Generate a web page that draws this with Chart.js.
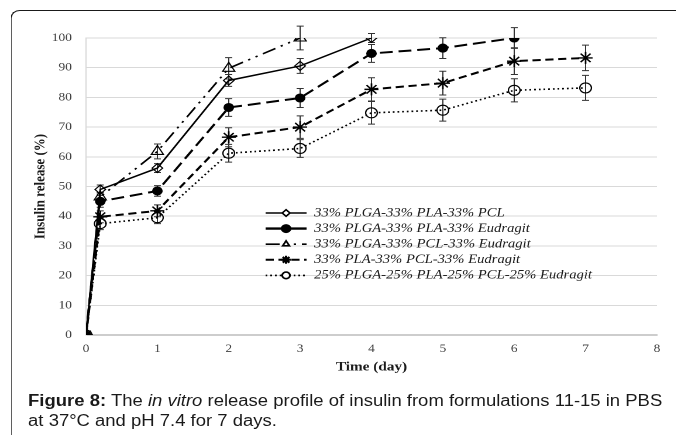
<!DOCTYPE html>
<html>
<head>
<meta charset="utf-8">
<script src="https://cdn.jsdelivr.net/npm/chart.js"></script>
<style>
  body { margin: 0; background: #fff; overflow: hidden; }
  #outer { position: relative; width: 676px; height: 435px; overflow: hidden; }
  /* the source figure is stretched horizontally, so draw narrow and stretch */
  #wrap { position: absolute; left: 0; top: 0; width: 578px; height: 435px;
    transform: scaleX(1.17); transform-origin: 0 0; }
  #frame { position: absolute; left: 8.5px; top: 10px; width: 620px; height: 460px;
    border-top: 1.5px solid #1a1a1a; border-left: 1.4px solid #1a1a1a; border-top-left-radius: 8px; }
  #chart { position: absolute; left: 0; top: 0; }
  #caption { position: absolute; left: 24px; top: 391px; white-space: nowrap;
    font: 15.8px "Liberation Sans", Arial, sans-serif; line-height: 20px; color: #1a1a1a; }
</style>
</head>
<body>
<div id="outer">
<div id="wrap">
  <div id="frame"></div>
  <canvas id="chart" width="578" height="380"></canvas>
  <div id="caption"><b>Figure 8:</b> The <i>in vitro</i> release profile of insulin from formulations 11-15 in PBS<br>at 37°C and pH 7.4 for 7 days.</div>
</div>
</div>
<script>
// time points (day)
var days = [0, 0.2, 1, 2, 3, 4, 5, 6, 7];
var seriesLabels = ["33% PLGA-33% PLA-33% PCL",
    "33% PLGA-33% PLA-33% Eudragit",
    "33% PLGA-33% PCL-33% Eudragit",
    "33% PLA-33% PCL-33% Eudragit",
    "25% PLGA-25% PLA-25% PCL-25% Eudragit"];
// insulin release (%) per formulation
var release1 = [0, 49, 56.2, 85.7, 90.6, 100];
var release2 = [0, 45, 48.5, 76.6, 79.8, 94.8, 96.6, 100];
var release3 = [0, 46.5, 61.8, 89.8, 100];
var release4 = [0, 39.8, 41.8, 66.6, 70, 82.7, 84.8, 92.2, 93.3];
var release5 = [0, 37.5, 39.5, 61.2, 62.8, 74.8, 75.7, 82.4, 83.2];
// standard deviations
var err1 = [0, 1.5, 1.5, 2, 2.5, 1.5];
var err2 = [0, 2, 1.8, 3, 3.2, 3, 3.5, 3.5];
var err3 = [0, 1.5, 2.5, 3.6, 4];
var err4 = [0, 2, 2, 3.2, 3.8, 3.9, 4, 4.5, 4.3];
var err5 = [0, 2, 2, 3, 3, 3.8, 3.7, 3.9, 4.2];
var yTicks = [0, 10, 20, 30, 40, 50, 60, 70, 80, 90, 100];
var xTicks = [0, 1, 2, 3, 4, 5, 6, 7, 8];

function toPoints(values, errs) {
    return values.map(function (v, i) { return { x: days[i], y: v, e: errs[i] }; });
}

var styles = [
    { dash: [], width: 1.5, point: 'rectRot', radius: 4.5, fill: 'rgba(255,255,255,0)' },
    { dash: [11, 5], width: 2, point: 'circle', radius: 4, fill: '#000' },
    { dash: [12, 5, 2, 5, 2, 5], width: 1.6, point: 'triangle', radius: 6, fill: 'rgba(255,255,255,0)' },
    { dash: [7, 4], width: 2, point: 'star', radius: 6, fill: 'rgba(255,255,255,0)' },
    { dash: [1.5, 2.5], width: 1.6, point: 'circle', radius: 5, fill: 'rgba(255,255,255,0)' }
];
var allValues = [release1, release2, release3, release4, release5];
var allErrs = [err1, err2, err3, err4, err5];

var datasets = allValues.map(function (vals, i) {
    var s = styles[i];
    return {
        label: seriesLabels[i],
        data: toPoints(vals, allErrs[i]),
        borderColor: '#000',
        borderWidth: s.width,
        borderDash: s.dash,
        pointStyle: s.point,
        pointRadius: s.radius,
        pointBackgroundColor: s.fill,
        pointBorderColor: '#000',
        pointBorderWidth: s.point === 'star' ? 1.4 : 1.1,
        tension: 0,
        fill: false
    };
});

// error bars from the y scale
var errorBars = {
    id: 'errorBars',
    beforeDatasetsDraw: function (chart) {
        var ctx = chart.ctx, ys = chart.scales.y, xs = chart.scales.x;
        ctx.save();
        ctx.strokeStyle = '#333';
        ctx.lineWidth = 1;
        chart.data.datasets.forEach(function (ds) {
            ds.data.forEach(function (p) {
                if (!p.e) return;
                var x = xs.getPixelForValue(p.x);
                var top = ys.getPixelForValue(p.y + p.e);
                var bot = ys.getPixelForValue(p.y - p.e);
                ctx.beginPath();
                ctx.moveTo(x, top); ctx.lineTo(x, bot);
                ctx.moveTo(x - 3, top); ctx.lineTo(x + 3, top);
                ctx.moveTo(x - 3, bot); ctx.lineTo(x + 3, bot);
                ctx.stroke();
            });
        });
        ctx.restore();
    }
};

// legend drawn inside the plot area
var insideLegend = {
    id: 'insideLegend',
    afterDraw: function (chart) {
        var ctx = chart.ctx;
        var x0 = 227, x1 = 262, y0 = 213, step = 15.6;
        ctx.save();
        chart.data.datasets.forEach(function (ds, i) {
            var y = y0 + i * step;
            ctx.strokeStyle = '#000';
            ctx.lineWidth = i === 1 ? 2.4 : ds.borderWidth;
            ctx.setLineDash(i === 1 ? [] : ds.borderDash);
            ctx.beginPath();
            ctx.moveTo(x0, y); ctx.lineTo(x1, y);
            ctx.stroke();
            ctx.setLineDash([]);
            ctx.fillStyle = ds.pointBackgroundColor === '#000' ? '#000' : '#fff';
            Chart.helpers.drawPoint(ctx, {
                pointStyle: ds.pointStyle,
                radius: ds.pointStyle === 'star' ? 4 : 3.3,
                rotation: 0,
                borderWidth: 1
            }, (x0 + x1) / 2, y);
            ctx.fillStyle = '#1a1a1a';
            ctx.font = 'italic 12.5px "Liberation Serif", "Times New Roman", serif';
            ctx.textBaseline = 'middle';
            ctx.fillText(ds.label, 268.5, y);
        });
        ctx.restore();
    }
};

var tickFont = { family: '"Liberation Serif", "Times New Roman", serif', size: 11.5 };
var titleFont = { family: '"Liberation Serif", "Times New Roman", serif', size: 13, weight: 'bold' };

new Chart(document.getElementById('chart'), {
    type: 'line',
    data: { datasets: datasets },
    plugins: [errorBars, insideLegend],
    options: {
        responsive: false,
        animation: false,
        devicePixelRatio: 2,
        layout: { padding: { left: 21, right: 16.5, top: 38, bottom: 0 } },
        plugins: { legend: { display: false }, tooltip: { enabled: false } },
        scales: {
            x: {
                type: 'linear',
                min: 0, max: 8,
                afterBuildTicks: function (axis) { axis.ticks = xTicks.map(function (v) { return { value: v }; }); },
                afterFit: function (axis) { axis.height = 45; },
                grid: { display: false, drawTicks: false },
                border: { display: true, color: '#9a9a9a', width: 1 },
                ticks: { font: tickFont, color: '#404040', padding: 7 },
                title: { display: true, text: 'Time (day)', font: titleFont, color: '#1a1a1a', padding: { top: 0, bottom: 5 } }
            },
            y: {
                min: 0, max: 100,
                afterBuildTicks: function (axis) { axis.ticks = yTicks.map(function (v) { return { value: v }; }); },
                afterFit: function (axis) { axis.width = 52.5; },
                grid: { color: '#d9d9d9', drawTicks: false },
                border: { display: true, color: '#d9d9d9', width: 1 },
                ticks: { font: tickFont, color: '#404040', padding: 12 },
                title: { display: true, text: 'Insulin release (%)', font: titleFont, color: '#1a1a1a', padding: { top: 6, bottom: 0 } }
            }
        }
    }
});
</script>
</body>
</html>
